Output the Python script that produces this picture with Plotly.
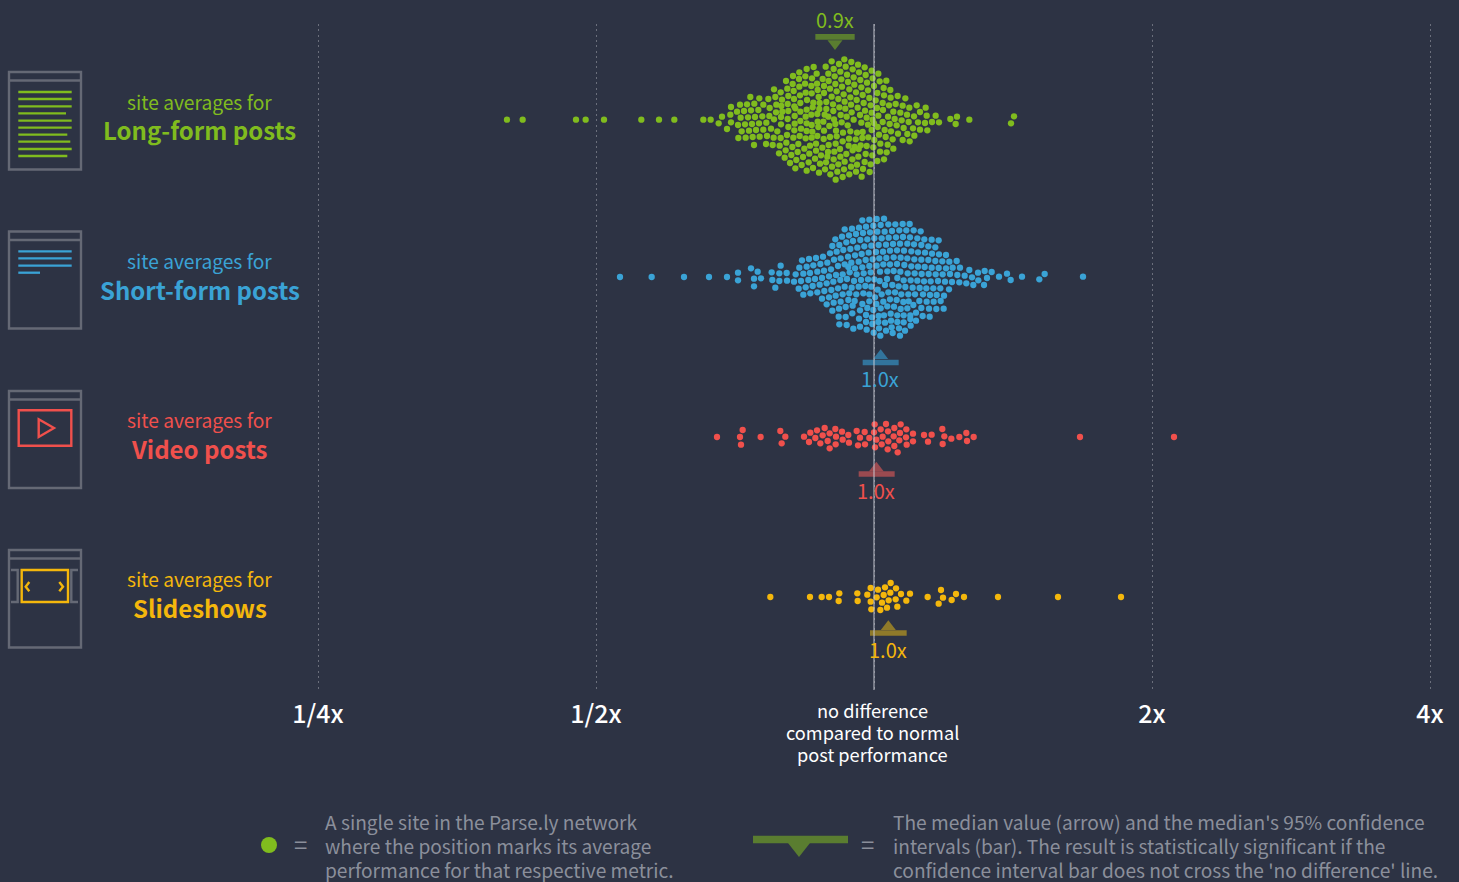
import math
import plotly.graph_objects as go

# Site values: position on the ratio axis, in steps of 1/834 of a doubling
# relative to 1x. The second array of each group is the swarm offset across the band.
STEPS_PER_DOUBLING = 834

long_x = [
 -89,-127,-68,-105,-48,-145,-181,-85,
 -28,-202,-121,-64,-101,-224,-137,-45,-7,13,-172,
 -81,-25,-243,-206,-118,-186,-154,-4,-61,-225,-98,
 -264,17,37,-41,-136,-171,-78,-21,-116,-244,-207,-188,-59,0,-150,-224,-96,
 29,-300,-260,-38,-132,-280,-241,-74,-205,-169,-18,49,-112,10,-54,-187,-150,
 -371,-344,-317,-296,-257,-276,-222,-34,-91,-127,30,71,94,50,-166,-107,-14,-71,-240,
 -201,-52,5,-182,-143,-88,-163,-259,-293,-402,-381,-359,-332,-429,-123,26,45,65,86,128,-31,-10,-69,-221,-278,-239,
 -313,106,155,-390,-369,-411,-347,-202,-143,-164,-104,-86,-49,9,27,138,58,79,-27,-257,-275,-294,-221,-184,-122,-67,-7,-236,
 -431,-456,-400,-378,-357,-335,-314,-238,-279,-300,-205,-170,-188,-137,-100,-82,-42,185,158,120,99,42,13,83,62,-120,-61,-259,-22,-4,-148,249,229,286,420,-512,-490,-221,
 -466,-429,-408,-387,-366,-345,-323,-279,-238,-202,-169,-187,-152,-116,-97,-79,-38,-18,26,0,47,68,104,132,153,174,195,245,411,-257,-219,-134,
 -441,-397,-375,-354,-332,-309,-290,-150,-167,-185,-202,-239,-114,-93,-71,-51,-34,11,-7,32,51,89,117,138,160,100,72,
 -407,-385,-364,-343,-321,-301,-280,-261,-223,-242,-205,-187,-170,-151,-132,-112,-75,-55,-35,-17,15,35,56,121,86,1,-94,
 -360,-324,-304,-283,-263,-245,-227,-209,-192,-174,-155,-136,-115,-76,-58,-40,-22,-2,19,41,107,58,
 -265,-285,-248,-229,-213,-194,-174,-159,-138,-119,-102,-83,-64,-46,-25,-5,18,38,
 -268,-233,-196,-177,-140,-121,-101,-65,-47,-28,10,30,
 -252,-217,-162,-144,-126,-107,-88,-69,-51,-10,
 -236,-202,-183,-165,-147,-131,-110,-90,-74,-54,-33,-13,-115,-94,-37,
 -1101,-1054,-894,-865,-810,-698,-645,-599,
]
long_y = [
 -181,-175,-173,-167,-165,-159,-158,-159,
 -157,-152,-152,-151,-144,-142,-138,-142,-147,-138,-138,
 -135,-134,-131,-130,-130,-124,-122,-124,-127,-122,-121,
 -116,-115,-117,-119,-116,-108,-113,-111,-107,-107,-108,-101,-105,-101,-101,-99,-99,
 -95,-91,-93,-97,-93,-82,-86,-91,-81,-89,-88,-89,-85,-80,-82,-79,-80,
 -68,-64,-62,-68,-71,-60,-73,-74,-76,-69,-73,-71,-64,-66,-68,-62,-65,-67,-62,
 -59,-59,-58,-51,-53,-54,-50,-47,-45,-45,-46,-48,-45,-38,-46,-50,-43,-47,-42,-43,-50,-43,-45,-50,-41,-40,
 -35,-36,-36,-26,-28,-24,-29,-30,-32,-32,-37,-33,-36,-35,-29,-23,-24,-21,-27,-26,-24,-22,-24,-37,-26,-22,-21,-34,
 -15,-9,-6,-7,-8,-10,-11,-11,-8,-1,-9,-17,-15,-9,-14,-9,-14,-12,-12,-10,-15,-9,-12,2,-2,-1,0,-2,-6,0,-15,-9,-2,0,-10,0,0,4,
 11,8,16,14,13,11,9,14,12,11,6,16,6,13,8,17,9,15,7,11,13,17,7,8,10,7,8,13,11,22,27,19,
 28,35,33,31,30,27,35,33,22,36,34,32,33,39,35,39,37,22,31,31,35,25,26,30,32,43,42,
 55,54,52,51,49,54,55,46,49,54,56,54,49,58,52,50,57,59,55,53,45,52,59,48,61,61,65,
 76,73,76,78,69,82,73,87,78,72,84,76,72,78,82,77,79,83,72,75,65,87,
 92,101,106,97,112,102,93,107,97,96,88,103,92,88,103,107,96,98,
 114,121,128,117,111,119,111,119,111,127,124,119,
 130,136,132,128,141,134,126,141,135,134,
 146,153,145,159,149,164,156,149,164,156,148,157,180,172,171,
 0,0,0,0,0,0,0,0,
]

short_x = [
 -35,-14,8,30,
 -88,-66,-45,-24,-2,20,43,64,86,107,
 -116,-96,-75,-54,-33,-12,10,32,54,76,97,119,140,
 -125,-104,-83,-63,-41,-20,1,23,44,66,87,108,130,151,173,194,
 -132,-112,-92,-71,-50,-29,-8,14,36,57,78,100,120,142,163,184,
 -216,-195,-174,-153,-120,-100,-78,-57,-37,-16,6,27,48,69,90,112,132,153,174,195,216,
 -224,-202,-182,-161,-140,-108,-88,-68,-46,-25,-4,16,37,59,80,100,121,142,163,184,205,226,248,
 -235,-212,-192,-170,-150,-129,-77,-57,-35,-14,8,28,48,69,91,112,132,152,173,194,216,236,258,286,
 -219,-197,-177,-156,-135,-114,-94,-73,-52,-31,-10,18,59,79,101,122,143,164,185,206,228,272,294,312,
 -240,-226,-205,-184,-163,-142,-122,-101,-81,-60,-39,-18,1,39,70,89,110,130,150,170,192,213,234,256,277,298,
 -212,-191,-170,-149,-128,-108,-88,-67,-46,-26,-8,33,55,74,94,116,137,157,178,199,225,
 -156,-135,-115,-94,-74,-53,-32,-14,3,23,43,63,82,103,123,147,168,188,210,
 -142,-121,-100,-77,-58,-35,-14,7,28,48,68,88,118,136,158,179,200,
 -125,-105,-85,-64,-42,-20,-2,20,40,60,80,100,142,165,187,209,
 -106,-85,-65,-45,-24,-6,14,30,50,70,89,109,126,146,167,
 -104,-82,-62,-42,-24,-5,13,33,51,70,89,109,126,
 -22,-1,19,36,56,75,78,93,110,53,15,
 332,353,313,339,330,375,399,410,444,496,512,627,
 -762,-667,-570,-495,-441,-408,-408,-369,-349,-360,-339,-360,-307,-305,-296,-284,-284,-280,-262,-261,
 40,17,11,104,250,
]
short_y = [
 -170,-172,-174,-175,
 -143,-145,-148,-151,-154,-156,-158,-158,-159,-159,
 -113,-121,-125,-129,-132,-134,-136,-136,-138,-140,-140,-140,-137,
 -93,-96,-104,-108,-111,-113,-116,-116,-118,-119,-120,-119,-116,-113,-112,-110,
 -71,-76,-81,-84,-88,-92,-94,-96,-97,-99,-100,-100,-98,-96,-92,-89,
 -50,-54,-57,-61,-52,-56,-61,-65,-69,-73,-75,-76,-79,-80,-79,-77,-74,-73,-70,-68,-66,
 -28,-31,-35,-39,-43,-33,-38,-43,-46,-51,-53,-56,-57,-59,-58,-56,-53,-52,-51,-48,-47,-46,-48,
 -8,-10,-12,-16,-19,-23,-30,-26,-29,-33,-34,-38,-38,-39,-36,-32,-31,-30,-28,-27,-26,-28,-28,-21,
 12,9,6,3,-2,-6,-8,-14,-8,-11,-14,-16,-18,-16,-11,-11,-9,-9,-8,-8,-9,-4,1,-13,
 14,35,31,27,23,19,14,9,6,12,9,7,7,6,3,10,10,11,13,13,12,14,15,16,19,24,
 53,49,46,42,39,34,29,32,29,27,29,24,24,28,30,32,33,34,34,34,37,
 65,61,56,52,49,52,49,52,61,52,46,46,52,52,52,52,54,54,56,
 82,77,74,69,72,81,73,81,74,67,69,75,84,72,74,74,72,
 101,95,90,86,100,93,99,94,88,89,96,94,93,95,96,95,
 119,120,109,125,114,121,117,115,110,115,115,115,107,117,119,
 142,144,155,149,135,141,135,137,131,135,136,126,131,
 158,167,176,161,168,154,176,161,146,151,154,
 -18,-15,10,3,24,-1,-10,9,-1,7,-9,-1,
 0,0,0,0,0,-13,10,-26,-16,5,4,28,-14,9,32,-11,12,-34,-12,11,
 -17,12,38,73,-6,
]

video_x = [
 -471,-394,-402,-399,-340,-281,-266,-277,-210,-191,-195,-171,-176,-148,-154,-161,-133,-139,-133,
 -116,-114,-115,-96,-94,-77,-75,-52,-42,-48,-28,-14,-27,2,0,7,3,20,36,26,23,42,43,41,61,59,61,
 80,78,76,71,97,96,98,117,117,150,173,162,205,211,206,232,256,277,279,299,618,900,
]
video_y = [
 0,-21,0,23,0,-18,-1,19,-1,-13,15,-20,3,-27,-5,19,-11,12,34,
 -24,-1,22,-16,8,-6,17,-18,2,25,-15,3,22,-38,-14,8,31,-23,-39,-1,22,-17,13,37,-27,-2,27,
 -38,-12,10,46,-23,1,23,-10,13,-6,-7,14,-24,-2,21,5,0,-12,12,0,0,0,
]

slide_x = [
 -311,-192,-157,-135,-104,-106,-50,-49,-20,-10,-10,-8,12,8,24,19,33,29,50,49,44,39,66,65,70,81,97,108,
 161,201,207,194,233,246,270,372,552,741,
]
slide_y = [
 0,0,0,0,-11,12,-11,12,-7,-27,14,37,-22,1,17,39,-29,-6,-42,-13,10,32,-26,7,29,-9,11,-10,
 0,-21,2,20,9,-9,0,0,0,0,
]

# Medians and 95% confidence intervals, same units
median_steps = [-117, 20, 7, 43]
ci_low_steps = [-176, -34, -46, -12]
ci_high_steps = [-58, 74, 62, 98]
median_labels = ["0.9x", "1.0x", "1.0x", "1.0x"]

categories = ["Long-form posts", "Short-form posts", "Video posts", "Slideshows"]
tick_vals = [0.25, 0.5, 1, 2, 4]
tick_text = ["1/4x", "1/2x", "", "2x", "4x"]

BG = "#2d3344"
GREEN, BLUE, RED, YELLOW = "#80bc1e", "#3aa3d6", "#f0504c", "#f4b70c"
colors = [GREEN, BLUE, RED, YELLOW]
muted = ["#5a7d30", "#32749c", "#9a4a50", "#8f7a2a"]
GRAY = "#8b8f9b"
ICON = "#656975"
FONT = "Noto Sans CJK SC"

W, H, TOP, BOTTOM = 1459, 882, 24, 690


def to_ratio(steps):
    return [2 ** (s / STEPS_PER_DOUBLING) for s in steps]


def px(v):
    return v / W


def py(v):
    return (BOTTOM - v) / (BOTTOM - TOP)


fig = go.Figure()
band_centers = [359, 831, 1311, 1791]
bar_y = [110.5, 1087.5, 1422, 1899]
tri_y = [130.5, 1067.5, 1405, 1880]
tri_sym = ["triangle-down", "triangle-up", "triangle-up", "triangle-up"]
swarms = [(long_x, long_y), (short_x, short_y), (video_x, video_y), (slide_x, slide_y)]

for i, (sx, sy) in enumerate(swarms):
    fig.add_trace(go.Scatter(
        x=to_ratio(sx), y=[band_centers[i] + o for o in sy], mode="markers",
        marker=dict(size=6.3, color=colors[i], line=dict(width=0)),
        name=categories[i], showlegend=False, hoverinfo="x"))
    fig.add_trace(go.Scatter(
        x=to_ratio([ci_low_steps[i], ci_high_steps[i]]), y=[bar_y[i]] * 2, mode="lines",
        line=dict(color=muted[i], width=5.7), showlegend=False, hoverinfo="skip"))
    fig.add_trace(go.Scatter(
        x=to_ratio([median_steps[i]]), y=[tri_y[i]], mode="markers",
        marker=dict(size=13, symbol=tri_sym[i], color=muted[i], line=dict(width=0)),
        showlegend=False, hoverinfo="skip"))

# no-difference line sits over the dots
fig.add_trace(go.Scatter(x=[1, 1], y=[2070, 72], mode="lines",
                         line=dict(color="rgba(205,208,216,0.62)", width=1.5),
                         showlegend=False, hoverinfo="skip"))

ann = []


def text(x, y, s, size, color, anchor="center", weight=400):
    ann.append(dict(x=px(x), y=py(y), xref="paper", yref="paper", text=s, showarrow=False,
                    xanchor=anchor, yanchor="middle", align=anchor,
                    font=dict(family=FONT, size=size, color=color, weight=weight)))


lab_y = [(102, 130), (261, 289), (420, 448), (579, 607)]
for i, c in enumerate(categories):
    text(199, lab_y[i][0], "site averages for", 19.2, colors[i])
    text(199.5, lab_y[i][1], c, 24, colors[i], weight=700)

med_pos = [(834.5, 19), (880, 378), (876, 490), (888, 649)]
for i, m in enumerate(median_labels):
    text(med_pos[i][0], med_pos[i][1], m, 20, colors[i])

for y, s in zip((710, 732, 754), ("no difference", "compared to normal", "post performance")):
    text(872.5, y, s, 18.2, "#ffffff")

for y, s in zip((822, 846, 870), ("A single site in the Parse.ly network",
                                  "where the position marks its average",
                                  "performance for that respective metric.")):
    text(323, y, s, 19.15, GRAY, anchor="left")
for y, s in zip((822, 846, 870), ("The median value (arrow) and the median's 95% confidence",
                                  "intervals (bar). The result is statistically significant if the",
                                  "confidence interval bar does not cross the 'no difference' line.")):
    text(891, y, s, 19.15, GRAY, anchor="left")
text(300, 843, "=", 24, GRAY)
text(868, 843, "=", 24, GRAY)

shapes = []


def path(points, color, width=2.4, closed=False, fill=None):
    d = "M" + " L".join(f"{px(a):.5f},{py(b):.5f}" for a, b in points) + (" Z" if closed else "")
    shape = dict(type="path", xref="paper", yref="paper", path=d,
                 line=dict(color=color, width=width))
    if fill:
        shape["fillcolor"] = fill
    shapes.append(shape)


pages = [(72, 169.5, 80.5), (231.5, 328.5, 240), (391, 488, 399.5), (550, 647.5, 558.5)]
for t, b, h in pages:
    path([(9, t), (81, t), (81, b), (9, b)], ICON, closed=True)
    path([(9, h), (81, h)], ICON)

for y, r in zip((92, 99, 106.3, 113.3, 120.7, 127.7, 134.7, 141.7, 149, 156),
                (71.7, 71.7, 71.7, 66, 71.7, 71.7, 67.3, 70.3, 71.7, 67.3)):
    path([(18.3, y), (r, y)], GREEN, width=2.3)
for y, r in zip((251.3, 258.3, 265.7, 272.7), (71.7, 71.7, 71.7, 40)):
    path([(18.3, y), (r, y)], BLUE, width=2.3)

path([(18.7, 410.3), (71.3, 410.3), (71.3, 445.7), (18.7, 445.7)], RED, closed=True)
path([(38.7, 419.3), (54, 428), (38.7, 437)], RED, closed=True)

path([(21.7, 570), (68, 570), (68, 602), (21.7, 602)], YELLOW, closed=True)
path([(29.3, 582), (25.7, 586.7), (29.3, 591.3)], YELLOW)
path([(59.3, 582), (63, 586.7), (59.3, 591.3)], YELLOW)
path([(11, 570), (17.7, 570), (17.7, 602), (11, 602)], ICON)
path([(78, 570), (71.3, 570), (71.3, 602), (78, 602)], ICON)

# legend keys
shapes.append(dict(type="circle", xref="paper", yref="paper", x0=px(261), x1=px(277),
                   y0=py(853), y1=py(837), fillcolor=GREEN, line=dict(width=0)))
path([(753, 839.5), (848, 839.5)], "#5a7d30", width=7.5)
path([(788, 843), (810, 843), (799, 857)], "#5a7d30", width=0, closed=True, fill="#5a7d30")

fig.update_layout(
    width=W, height=H, paper_bgcolor=BG, plot_bgcolor=BG,
    margin=dict(l=0, r=0, t=TOP, b=H - BOTTOM, autoexpand=False),
    showlegend=False, annotations=ann, shapes=shapes,
    xaxis=dict(type="log",
               range=[math.log10(2 ** (-874 / 278)), math.log10(2 ** (585 / 278))],
               tickvals=tick_vals, ticktext=tick_text,
               tickfont=dict(family=FONT, size=25, color="#ffffff", weight=500),
               ticks="", showline=False, zeroline=False, showgrid=True,
               gridcolor="#6b6f7c", gridwidth=1.3, griddash="2px,3.3px", ticklabelstandoff=7),
    yaxis=dict(range=[2070, 72], visible=False),
)
fig.write_html("out.html", config={"displayModeBar": False},
               post_script="document.body.style.margin='0';document.body.style.background='#2d3344';")
